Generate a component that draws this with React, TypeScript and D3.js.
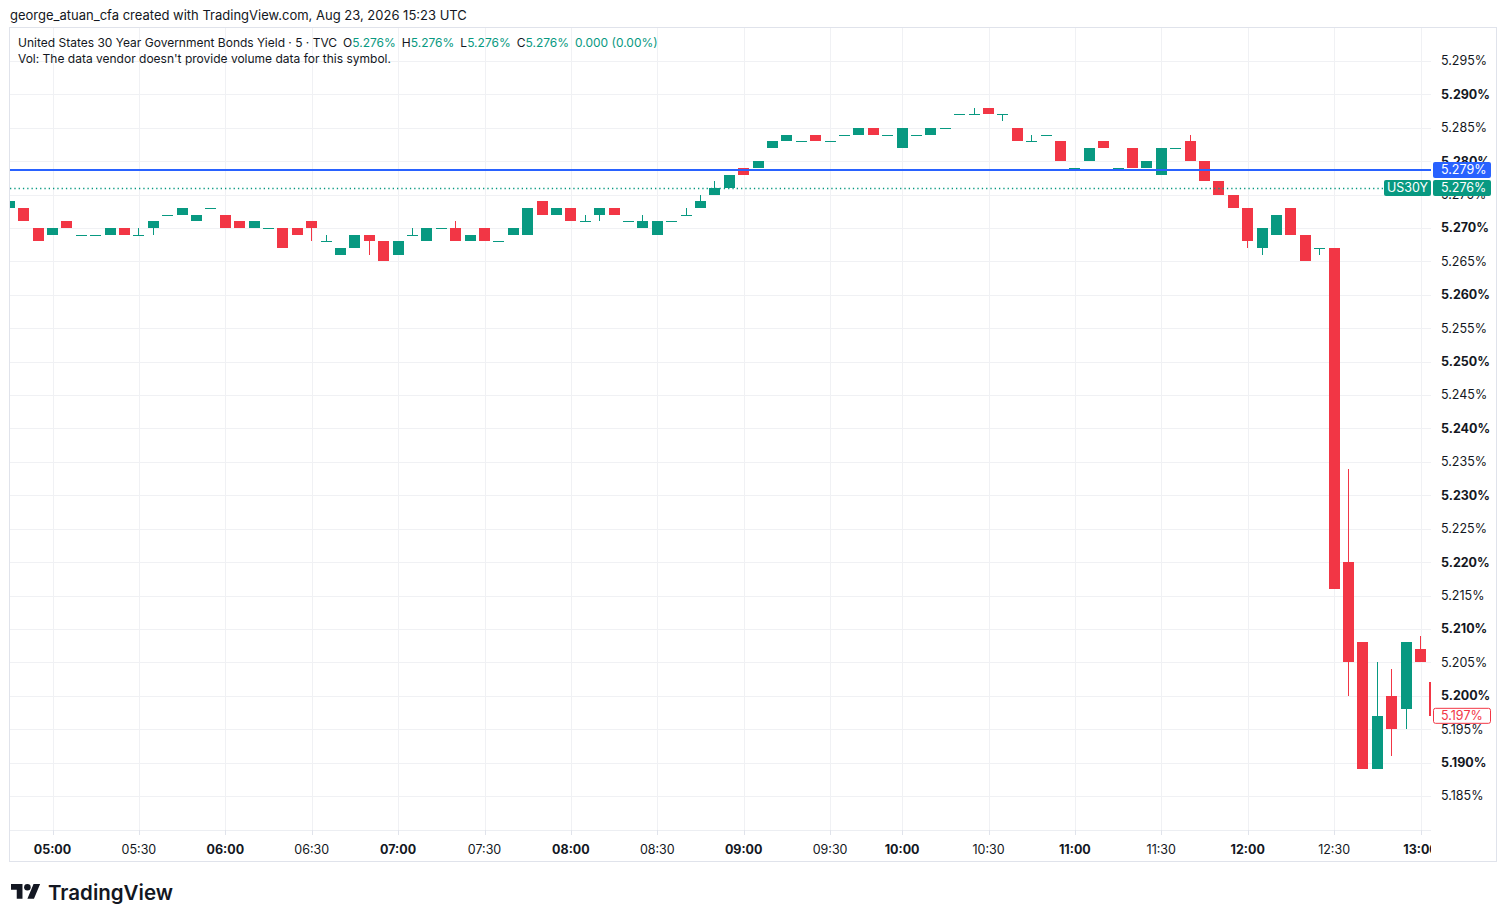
import React from "react";
import * as d3 from "d3";

// 5-minute bars, US30Y (09:55 bar is missing in the feed)
const times = [
  "04:45", "04:50", "04:55", "05:00", "05:05", "05:10", "05:15", "05:20", "05:25",
  "05:30", "05:35", "05:40", "05:45", "05:50", "05:55", "06:00", "06:05", "06:10",
  "06:15", "06:20", "06:25", "06:30", "06:35", "06:40", "06:45", "06:50", "06:55",
  "07:00", "07:05", "07:10", "07:15", "07:20", "07:25", "07:30", "07:35", "07:40",
  "07:45", "07:50", "07:55", "08:00", "08:05", "08:10", "08:15", "08:20", "08:25",
  "08:30", "08:35", "08:40", "08:45", "08:50", "08:55", "09:00", "09:05", "09:10",
  "09:15", "09:20", "09:25", "09:30", "09:35", "09:40", "09:45", "09:50", "10:00",
  "10:05", "10:10", "10:15", "10:20", "10:25", "10:30", "10:35", "10:40", "10:45",
  "10:50", "10:55", "11:00", "11:05", "11:10", "11:15", "11:20", "11:25", "11:30",
  "11:35", "11:40", "11:45", "11:50", "11:55", "12:00", "12:05", "12:10", "12:15",
  "12:20", "12:25", "12:30", "12:35", "12:40", "12:45", "12:50", "12:55", "13:00",
  "13:05",
];
const opens = [
  5.273, 5.273, 5.27, 5.269, 5.271, 5.269, 5.269, 5.269, 5.27,
  5.269, 5.27, 5.272, 5.272, 5.271, 5.273, 5.272, 5.271, 5.27,
  5.27, 5.27, 5.27, 5.271, 5.268, 5.266, 5.267, 5.269, 5.268,
  5.266, 5.269, 5.268, 5.27, 5.27, 5.268, 5.27, 5.268, 5.269,
  5.269, 5.274, 5.272, 5.273, 5.271, 5.272, 5.273, 5.271, 5.27,
  5.269, 5.271, 5.272, 5.273, 5.275, 5.276, 5.279, 5.279, 5.282,
  5.283, 5.283, 5.284, 5.283, 5.284, 5.284, 5.285, 5.284, 5.282,
  5.284, 5.284, 5.285, 5.287, 5.287, 5.288, 5.287, 5.285, 5.283,
  5.284, 5.283, 5.279, 5.28, 5.283, 5.279, 5.282, 5.279, 5.278,
  5.282, 5.283, 5.28, 5.277, 5.275, 5.273, 5.267, 5.269, 5.273,
  5.269, 5.267, 5.267, 5.22, 5.208, 5.189, 5.2, 5.198, 5.207,
  5.202,
];
const highs = [
  5.274, 5.273, 5.27, 5.27, 5.271, 5.269, 5.269, 5.27, 5.27,
  5.27, 5.271, 5.272, 5.273, 5.272, 5.273, 5.272, 5.271, 5.271,
  5.27, 5.27, 5.27, 5.271, 5.269, 5.267, 5.269, 5.269, 5.268,
  5.268, 5.27, 5.27, 5.27, 5.271, 5.269, 5.27, 5.268, 5.27,
  5.273, 5.274, 5.273, 5.273, 5.272, 5.273, 5.273, 5.271, 5.272,
  5.271, 5.271, 5.273, 5.275, 5.277, 5.278, 5.279, 5.28, 5.283,
  5.284, 5.283, 5.284, 5.283, 5.284, 5.285, 5.285, 5.284, 5.285,
  5.284, 5.285, 5.285, 5.287, 5.288, 5.288, 5.287, 5.285, 5.284,
  5.284, 5.283, 5.279, 5.282, 5.283, 5.279, 5.282, 5.28, 5.282,
  5.282, 5.284, 5.28, 5.277, 5.275, 5.273, 5.27, 5.272, 5.273,
  5.269, 5.267, 5.267, 5.234, 5.208, 5.205, 5.204, 5.208, 5.209,
  5.202,
];
const lows = [
  5.273, 5.271, 5.268, 5.269, 5.27, 5.269, 5.269, 5.269, 5.269,
  5.269, 5.269, 5.272, 5.272, 5.271, 5.273, 5.27, 5.27, 5.27,
  5.27, 5.267, 5.269, 5.268, 5.268, 5.266, 5.267, 5.266, 5.265,
  5.266, 5.269, 5.268, 5.27, 5.268, 5.268, 5.268, 5.268, 5.269,
  5.269, 5.272, 5.272, 5.271, 5.271, 5.271, 5.272, 5.271, 5.27,
  5.269, 5.271, 5.272, 5.273, 5.275, 5.276, 5.278, 5.279, 5.282,
  5.283, 5.283, 5.283, 5.283, 5.284, 5.284, 5.284, 5.284, 5.282,
  5.284, 5.284, 5.285, 5.287, 5.287, 5.287, 5.286, 5.283, 5.283,
  5.284, 5.28, 5.279, 5.28, 5.282, 5.279, 5.279, 5.279, 5.278,
  5.282, 5.28, 5.277, 5.275, 5.273, 5.267, 5.266, 5.269, 5.269,
  5.265, 5.266, 5.216, 5.2, 5.189, 5.189, 5.191, 5.195, 5.205,
  5.197,
];
const closes = [
  5.274, 5.271, 5.268, 5.27, 5.27, 5.269, 5.269, 5.27, 5.269,
  5.269, 5.271, 5.272, 5.273, 5.272, 5.273, 5.27, 5.27, 5.271,
  5.27, 5.267, 5.269, 5.27, 5.268, 5.267, 5.269, 5.268, 5.265,
  5.268, 5.269, 5.27, 5.27, 5.268, 5.269, 5.268, 5.268, 5.27,
  5.273, 5.272, 5.273, 5.271, 5.271, 5.273, 5.272, 5.271, 5.271,
  5.271, 5.271, 5.272, 5.274, 5.276, 5.278, 5.278, 5.28, 5.283,
  5.284, 5.283, 5.283, 5.283, 5.284, 5.285, 5.284, 5.284, 5.285,
  5.284, 5.285, 5.285, 5.287, 5.287, 5.287, 5.287, 5.283, 5.283,
  5.284, 5.28, 5.279, 5.282, 5.282, 5.279, 5.279, 5.28, 5.282,
  5.282, 5.28, 5.277, 5.275, 5.273, 5.268, 5.27, 5.272, 5.269,
  5.265, 5.267, 5.216, 5.205, 5.189, 5.197, 5.195, 5.208, 5.205,
  5.197,
];

const priceTicks = [
  5.185, 5.19, 5.195, 5.2, 5.205, 5.21, 5.215, 5.22, 5.225, 5.23, 5.235, 5.24,
  5.245, 5.25, 5.255, 5.26, 5.265, 5.27, 5.275, 5.28, 5.285, 5.29, 5.295,
];
const timeTicks = [
  "05:00", "05:30", "06:00", "06:30", "07:00", "07:30", "08:00", "08:30", "09:00",
  "09:30", "10:00", "10:30", "11:00", "11:30", "12:00", "12:30", "13:00",
];

const alertLevel = 5.2787;
const symbolLast = 5.276;
const lastPrice = 5.197;

const W = 1506;
const H = 923;
const pane = { left: 10, right: 1431, top: 28, bottom: 830 };
const UP = "#089981";
const DOWN = "#F23645";
const FONT = "Inter, Roboto, 'Noto Sans', sans-serif";
const TEXT = "#131722";
const GRID = "#f0f1f4";

const bars = times.map((t, i) => ({
  t,
  o: opens[i],
  h: highs[i],
  l: lows[i],
  c: closes[i],
}));

const App: React.FC = () => {
  // Scales
  const xScale = d3
    .scaleBand<string>()
    .domain(times)
    .range([2.1, 2.1 + times.length * 14.4])
    .paddingInner(0.236)
    .paddingOuter(0.118);
  const bw = Math.round(xScale.bandwidth());
  const cx = (t: string) => (xScale(t) as number) + xScale.bandwidth() / 2;

  const yScale = d3.scaleLinear().domain([5.185, 5.295]).range([796, 61]);
  const fmt = (v: number) => `${d3.format(".3f")(v)}%`;

  const yAlert = Math.round(yScale(alertLevel));
  const ySym = yScale(symbolLast);
  const yLast = yScale(lastPrice);

  return (
    <svg
      width={W}
      height={H}
      style={{ position: "absolute", left: 0, top: 0, background: "#fff" }}
      fontFamily={FONT}
    >
      <defs>
        <clipPath id="pane-clip">
          <rect
            x={pane.left}
            y={pane.top}
            width={pane.right - pane.left}
            height={pane.bottom - pane.top}
          />
        </clipPath>
        <clipPath id="time-clip">
          <rect x={pane.left} y={pane.bottom} width={pane.right - pane.left} height={32} />
        </clipPath>
      </defs>

      {/* Header */}
      <text x={10} y={20} fontSize={13} fill={TEXT}>
        george_atuan_cfa created with TradingView.com, Aug 23, 2026 15:23 UTC
      </text>

      {/* Frame */}
      <rect x={9.5} y={27.5} width={1487} height={834} fill="#fff" stroke="#e0e3eb" />

      {/* Grid */}
      <g clipPath="url(#pane-clip)">
        {priceTicks.map((p) => (
          <line
            key={`h${p}`}
            x1={pane.left}
            x2={pane.right}
            y1={Math.round(yScale(p)) + 0.5}
            y2={Math.round(yScale(p)) + 0.5}
            stroke={GRID}
          />
        ))}
        {timeTicks.map((t) => (
          <line
            key={`v${t}`}
            x1={Math.round(cx(t)) + 0.5}
            x2={Math.round(cx(t)) + 0.5}
            y1={pane.top}
            y2={pane.bottom}
            stroke={GRID}
          />
        ))}
      </g>
      <line x1={pane.left} x2={pane.right} y1={pane.bottom + 0.5} y2={pane.bottom + 0.5} stroke="#eceef2" />

      {/* Candles */}
      <g clipPath="url(#pane-clip)">
        {bars.map((d) => {
          const color = d.c >= d.o ? UP : DOWN;
          const x0 = Math.round(xScale(d.t) as number);
          const top = Math.round(yScale(Math.max(d.o, d.c)));
          const bot = Math.round(yScale(Math.min(d.o, d.c)));
          return (
            <g key={d.t}>
              <line
                x1={x0 + Math.floor(bw / 2) + 0.5}
                x2={x0 + Math.floor(bw / 2) + 0.5}
                y1={Math.round(yScale(d.h))}
                y2={Math.round(yScale(d.l))}
                stroke={color}
              />
              <rect x={x0} y={top} width={bw} height={Math.max(1, bot - top)} fill={color} />
            </g>
          );
        })}

        {/* Alert line and symbol last-price line */}
        <line x1={pane.left} x2={pane.right} y1={yAlert} y2={yAlert} stroke="#2962FF" strokeWidth={2} />
        <line
          x1={pane.left}
          x2={1383}
          y1={Math.round(ySym) + 0.5}
          y2={Math.round(ySym) + 0.5}
          stroke={UP}
          strokeWidth={1.3}
          strokeDasharray="1.3 3"
        />
      </g>

      {/* Legend */}
      <text x={18} y={47} fontSize={12} fill={TEXT}>
        United States 30 Year Government Bonds Yield · 5 · TVC
        <tspan dx={6}>O</tspan>
        <tspan fill={UP}>{fmt(symbolLast)}</tspan>
        <tspan dx={6}>H</tspan>
        <tspan fill={UP}>{fmt(symbolLast)}</tspan>
        <tspan dx={6}>L</tspan>
        <tspan fill={UP}>{fmt(symbolLast)}</tspan>
        <tspan dx={6}>C</tspan>
        <tspan fill={UP}>{fmt(symbolLast)}</tspan>
        <tspan dx={6} fill={UP}>0.000 (0.00%)</tspan>
      </text>
      <text x={18} y={63} fontSize={12} fill={TEXT}>
        Vol: The data vendor doesn't provide volume data for this symbol.
      </text>

      {/* Price axis */}
      {priceTicks.map((p) => {
        const major = Math.round(p * 1000) % 10 === 0;
        return (
          <text
            key={`pl${p}`}
            x={1441}
            y={yScale(p)}
            dy="0.35em"
            fontSize={12.5}
            fontWeight={major ? 700 : 400}
            fill={TEXT}
          >
            {fmt(p)}
          </text>
        );
      })}

      {/* Time axis */}
      <g clipPath="url(#time-clip)">
        {timeTicks.map((t) => (
          <g key={`tl${t}`}>
            <line
              x1={Math.round(cx(t)) + 0.5}
              x2={Math.round(cx(t)) + 0.5}
              y1={pane.bottom}
              y2={pane.bottom + 5}
              stroke="#e0e3eb"
            />
            <text
              x={cx(t)}
              y={854}
              textAnchor="middle"
              fontSize={12.5}
              fontWeight={t.endsWith(":00") ? 700 : 400}
              fill={TEXT}
            >
              {t}
            </text>
          </g>
        ))}
      </g>

      {/* Axis price labels */}
      <rect x={1433} y={yAlert - 8} width={58} height={16} rx={2} fill="#2962FF" />
      <text x={1441} y={yAlert} dy="0.35em" fontSize={12.5} fill="#fff">
        {fmt(alertLevel)}
      </text>
      <rect x={1384} y={ySym - 8} width={47} height={16} rx={2} fill={UP} />
      <text x={1407.5} y={ySym} dy="0.35em" fontSize={12.5} fill="#fff" textAnchor="middle">
        US30Y
      </text>
      <rect x={1433} y={ySym - 8} width={58} height={16} rx={2} fill={UP} />
      <text x={1441} y={ySym} dy="0.35em" fontSize={12.5} fill="#fff">
        {fmt(symbolLast)}
      </text>
      <rect x={1433.5} y={yLast - 7.5} width={57} height={15} rx={2} fill="#fff" stroke={DOWN} />
      <text x={1441} y={yLast} dy="0.35em" fontSize={12.5} fill={DOWN}>
        {fmt(lastPrice)}
      </text>

      {/* TradingView logo */}
      <g transform="translate(11,880.7) scale(0.82)" fill={TEXT}>
        <path d="M14 22H7V11H0V4h14v18zM28 22h-8l7.5-18h8L28 22z" />
        <circle cx={20} cy={8} r={4} />
      </g>
      <text x={48} y={900} fontSize={20.5} fontWeight={600} fill={TEXT}>
        TradingView
      </text>
    </svg>
  );
};

export default App;
